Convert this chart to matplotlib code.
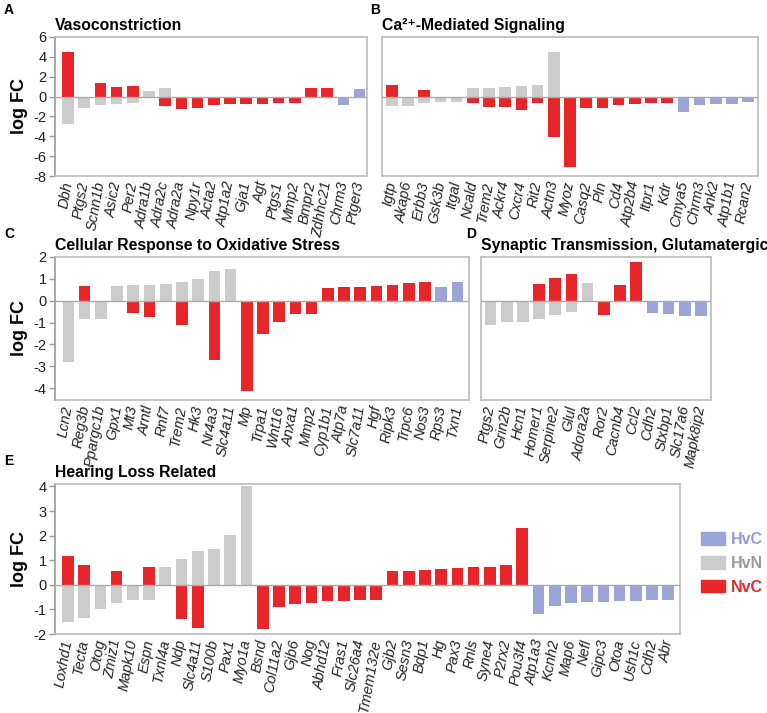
import numpy as np
import matplotlib
matplotlib.use("Agg")
import matplotlib.pyplot as plt
from matplotlib.patches import Patch

plt.rcParams["font.family"] = ["Liberation Sans", "DejaVu Sans"]

nan = np.nan

# A: Vasoconstriction
a_genes = ["Dbh", "Ptgs2", "Scnn1b", "Asic2", "Per2", "Adra1b", "Adra2c", "Adra2a", "Npy1r",
           "Acta2", "Atp1a2", "Gja1", "Agt", "Ptgs1", "Mmp2", "Bmpr2", "Zdhhc21", "Chrm3", "Ptger3"]
a_hvn = [-2.75, -1.17, -0.83, -0.73, -0.67, 0.6, 0.83, nan, nan,
         nan, nan, nan, nan, nan, nan, nan, nan, nan, nan]
a_nvc = [4.45, nan, 1.4, 1.0, 1.07, nan, -1.0, -1.23, -1.17,
         -0.83, -0.77, -0.73, -0.7, -0.6, -0.6, 0.83, 0.9, nan, nan]
a_hvc = [nan] * 17 + [-0.83, 0.73]

# B: Ca2+-mediated signaling
b_genes = ["Igtp", "Akap6", "Erbb3", "Gsk3b", "Itgal", "Ncald", "Trem2", "Ackr4", "Cxcr4", "Rit2",
           "Actn3", "Myoz", "Casq2", "Pln", "Cd4", "Atp2b4", "Itpr1", "Kdr", "Cmya5", "Chrm3",
           "Ank2", "Atp1b1", "Rcan2"]
b_hvn = [-0.93, -0.93, -0.6, -0.53, -0.5, 0.83, 0.9, 1.0, 1.07, 1.17,
         4.5, nan, nan, nan, nan, nan, nan, nan, nan, nan, nan, nan, nan]
b_nvc = [1.17, nan, 0.67, nan, nan, -0.67, -1.1, -1.03, -1.33, -0.63,
         -4.05, -7.05, -1.17, -1.13, -0.8, -0.7, -0.6, -0.6, nan, nan, nan, nan, nan]
b_hvc = [nan] * 18 + [-1.57, -0.8, -0.73, -0.7, -0.57]

# C: Cellular response to oxidative stress
c_genes = ["Lcn2", "Reg3b", "Ppargc1b", "Gpx1", "Mt3", "Arntl", "Rnf7", "Trem2", "Hk3", "Nr4a3",
           "Slc4a11", "Mp", "Trpa1", "Wnt16", "Anxa1", "Mmp2", "Cyp1b1", "Atp7a", "Slc7a11", "Hgf",
           "Ripk3", "Trpc6", "Nos3", "Rps3", "Txn1"]
c_hvn = [-2.81, -0.85, -0.82, 0.67, 0.7, 0.73, 0.76, 0.84, 0.99, 1.34,
         1.45, nan, nan, nan, nan, nan, nan, nan, nan, nan, nan, nan, nan, nan, nan]
c_nvc = [nan, 0.66, nan, nan, -0.58, -0.73, nan, -1.11, nan, -2.73,
         nan, -4.12, -1.5, -0.99, -0.61, -0.61, 0.6, 0.61, 0.63, 0.67,
         0.72, 0.81, 0.84, nan, nan]
c_hvc = [nan] * 23 + [0.63, 0.85]

# D: Synaptic transmission, glutamatergic
d_genes = ["Ptgs2", "Grin2b", "Hcn1", "Homer1", "Serpine2", "Glul", "Adora2a", "Ror2", "Cacnb4",
           "Ccl2", "Cdh2", "Stxbp1", "Slc17a6", "Mapk8ip2"]
d_hvn = [-1.13, -0.99, -0.95, -0.82, -0.63, -0.53, 0.81, nan, nan, nan, nan, nan, nan, nan]
d_nvc = [nan, nan, nan, 0.76, 1.02, 1.2, nan, -0.64, 0.73, 1.77, nan, nan, nan, nan]
d_hvc = [nan] * 10 + [-0.56, -0.61, -0.69, -0.69]

# E: Hearing loss related
e_genes = ["Loxhd1", "Tecta", "Otog", "Zmiz1", "Mapk10", "Espn", "Txnl4a", "Ndp", "Slc4a11",
           "S100b", "Pax1", "Myo1a", "Bsnd", "Col11a2", "Gjb6", "Nog", "Abhd12", "Fras1",
           "Slc26a4", "Tmem132e", "Gjb2", "Sesn3", "Bdp1", "Hg", "Pax3", "Rnls", "Syne4",
           "P2rx2", "Pou3f4", "Atp1a3", "Kcnh2", "Map6", "Nefl", "Gipc3", "Otoa", "Ush1c",
           "Cdh2", "Abr"]
e_hvn = [-1.5, -1.36, -0.97, -0.74, -0.62, -0.61, 0.72, 1.03, 1.38,
         1.45, 2.04, 4.0] + [nan] * 26
e_nvc = [1.19, 0.8, nan, 0.58, nan, 0.73, nan, -1.41, -1.74,
         nan, nan, nan, -1.78, -0.89, -0.78, -0.74, -0.66, -0.65,
         -0.62, -0.61, 0.58, 0.58, 0.62, 0.66, 0.69, 0.72, 0.74,
         0.81, 2.31] + [nan] * 9
e_hvc = [nan] * 29 + [-1.18, -0.85, -0.72, -0.69, -0.68, -0.64, -0.64, -0.62, -0.61]

RED = "#E8262A"
GRAY = "#CCCCCC"
BLUE = "#9BA6D8"
EDGE = "#BBBBBB"

W, H = 767, 713
fig = plt.figure(figsize=(W / 100, H / 100), dpi=100)


def make_ax(left, right, top, bottom):
    return fig.add_axes([left / W, 1 - bottom / H, (right - left) / W, (bottom - top) / H])


def draw_panel(ax, genes, hvn, nvc, hvc, ylim, yticks, xmargins, title, show_y=True):
    x = np.arange(len(genes))
    ax.bar(x, hvn, width=0.72, color=GRAY, zorder=2)
    ax.bar(x, nvc, width=0.72, color=RED, zorder=3)
    ax.bar(x, hvc, width=0.72, color=BLUE, zorder=3)
    ax.axhline(0, color="#AAAAAA", linewidth=1.0, zorder=4)
    ax.set_xlim(-xmargins[0], len(genes) - 1 + xmargins[1])
    ax.set_ylim(*ylim)
    for s in ax.spines.values():
        s.set_color(EDGE)
        s.set_linewidth(1.2)
    ax.set_xticks(x)
    ax.set_xticklabels(genes, rotation=80, ha="right", va="center",
                       rotation_mode="anchor", fontstyle="italic", fontsize=10.5,
                       color="#222222")
    ax.tick_params(axis="x", length=0, pad=4)
    if show_y:
        ax.set_yticks(yticks)
        ax.set_yticklabels([str(t) for t in yticks], fontsize=10.5, color="#222222")
        ax.tick_params(axis="y", length=4, color="#999999", width=1, pad=2)
        ax.spines["left"].set_color("#999999")
        ax.set_ylabel("log FC", fontsize=13, fontweight="bold", labelpad=4)
    else:
        ax.set_yticks([])
    ax.set_title(title, loc="left", fontsize=11.3, fontweight="bold", pad=5, x=0.0)


axA = make_ax(55, 367, 37, 176)
draw_panel(axA, a_genes, a_hvn, a_nvc, a_hvc, (-8, 6), [6, 4, 2, 0, -2, -4, -6, -8],
           (0.8, 0.46), "Vasoconstriction")

axB = make_ax(382, 758, 37, 176)
draw_panel(axB, b_genes, b_hvn, b_nvc, b_hvc, (-8, 6), [], (0.6, 0.6),
           "Ca²⁺-Mediated Signaling", show_y=False)

axC = make_ax(55, 469, 257, 400)
draw_panel(axC, c_genes, c_hvn, c_nvc, c_hvc, (-4.54, 2), [2, 1, 0, -1, -2, -3, -4],
           (0.83, 0.71), "Cellular Response to Oxidative Stress")

axD = make_ax(481, 711, 257, 400)
draw_panel(axD, d_genes, d_hvn, d_nvc, d_hvc, (-4.54, 2), [], (0.59, 0.62),
           "Synaptic Transmission, Glutamatergic", show_y=False)

axE = make_ax(55, 680, 484, 634)
draw_panel(axE, e_genes, e_hvn, e_nvc, e_hvc, (-2, 4.1), [4, 3, 2, 1, 0, -1, -2],
           (0.8, 0.72), "Hearing Loss Related")

# panel letters
for letter, px, py in [("A", 4, 10), ("B", 370, 10), ("C", 4, 234), ("D", 466, 234), ("E", 4, 461)]:
    fig.text(px / W, 1 - py / H, letter, fontsize=10, fontweight="bold", va="center", ha="left")

# legend
handles = [Patch(color=BLUE), Patch(color=GRAY), Patch(color=RED)]
leg = fig.legend(handles, ["HvC", "HvN", "NvC"], loc="upper left",
                 bbox_to_anchor=(693 / W, 1 - 524 / H), frameon=False,
                 prop={"weight": "bold", "size": 11.5}, handlelength=1.5, handleheight=0.85,
                 labelspacing=0.55, handletextpad=0.35, borderpad=0,
                 labelcolor=["#8F9BD8", "#999999", RED])

fig.savefig("out.png", dpi=100)
